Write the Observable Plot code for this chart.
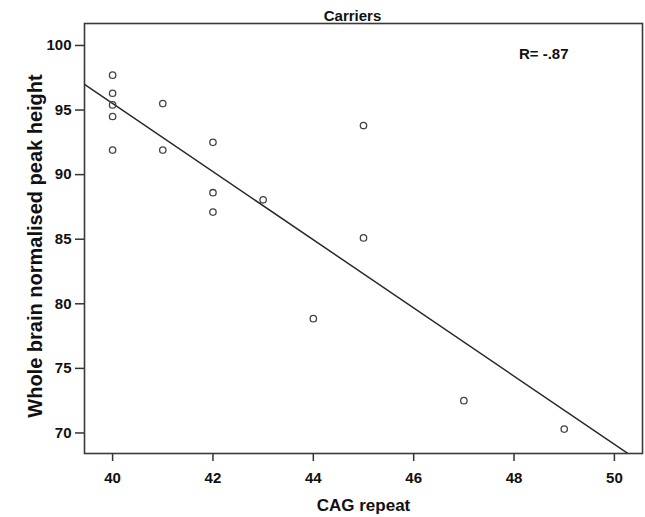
<!DOCTYPE html>
<html><head><meta charset="utf-8">
<script src="https://cdn.jsdelivr.net/npm/d3@7"></script>
<script src="https://cdn.jsdelivr.net/npm/@observablehq/plot@0.6"></script>
<style>body{margin:0;background:#fff} svg{display:block}</style>
</head><body><div id="chart"></div>
<script>
const cagRepeat = [40,40,40,40,40,41,41,42,42,42,43,44,45,45,47,49];
const peakHeight = [97.7,96.3,95.4,94.5,91.9,95.5,91.9,92.5,88.6,87.1,88.05,78.85,93.8,85.1,72.5,70.3];
const xTicks = [40,42,44,46,48,50];
const yTicks = [70,75,80,85,90,95,100];
const chartTitle = "Carriers";
const rLabel = "R= -.87";
const xLabel = "CAG repeat";
const yLabel = "Whole brain normalised peak height";

const points = cagRepeat.map((x, i) => ({x, y: peakHeight[i]}));
const xDomain = [39.44, 50.56];
const yDomain = [68.41, 101.7];

// least-squares regression fitted to the data
const mx = d3.mean(cagRepeat), my = d3.mean(peakHeight);
const sxy = d3.sum(points, p => (p.x - mx) * (p.y - my));
const sxx = d3.sum(points, p => (p.x - mx) ** 2);
const slope = sxy / sxx, intercept = my - slope * mx;
const fitLine = xDomain.map(x => ({x, y: intercept + slope * x}));

const font = "'Liberation Sans', Arial, sans-serif";
const chart = Plot.plot({
  width: 645, height: 517,
  marginLeft: 84, marginRight: 3, marginTop: 23, marginBottom: 64,
  style: {fontFamily: font, background: "#fff", color: "#111"},
  x: {domain: xDomain},
  y: {domain: yDomain},
  marks: [
    Plot.axisX({ticks: xTicks, tickSize: 8, tickPadding: 11, label: null, fontSize: 15, fontWeight: "bold", strokeWidth: 1.5, stroke: "#333"}),
    Plot.axisY({ticks: yTicks, tickSize: 9, tickPadding: 4, label: null, fontSize: 15, fontWeight: "bold", strokeWidth: 1.5, stroke: "#333"}),
    Plot.frame({stroke: "#3a3a3a", strokeWidth: 1.6}),
    Plot.line(fitLine, {x: "x", y: "y", stroke: "#2a2a2a", strokeWidth: 1.5, clip: true}),
    Plot.dot(points, {x: "x", y: "y", r: 3.2, stroke: "#444", strokeWidth: 1.3, fill: "none"}),
    Plot.text([chartTitle], {frameAnchor: "top", dx: -11, dy: -7, lineAnchor: "middle", fontSize: 15, fontWeight: "bold", fill: "#111"}),
    Plot.text([rLabel], {frameAnchor: "top-right", textAnchor: "end", dx: -74, dy: 31, lineAnchor: "middle", fontSize: 15, fontWeight: "bold", fill: "#111"}),
    Plot.text([xLabel], {frameAnchor: "bottom", dy: 52, lineAnchor: "middle", fontSize: 17, fontWeight: "bold", fill: "#111"}),
    Plot.text([yLabel], {frameAnchor: "left", rotate: -90, dx: -49, dy: 7.5, lineAnchor: "middle", textAnchor: "middle", fontSize: 20, fontWeight: "bold", fill: "#111"})
  ]
});
document.getElementById("chart").append(chart);
</script>
</body></html>
